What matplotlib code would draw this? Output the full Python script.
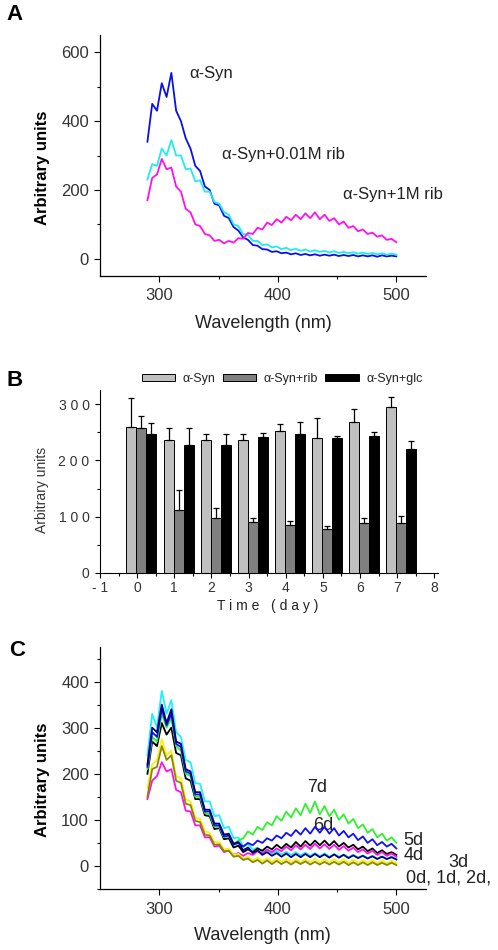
import numpy as np
import matplotlib
matplotlib.use("Agg")
import matplotlib.pyplot as plt
from matplotlib.ticker import MultipleLocator, FixedLocator, FixedFormatter

plt.rcParams['font.family'] = ['Liberation Sans', 'DejaVu Sans']

# ---------------- data ----------------
wavelength = np.linspace(290, 500, 53)

# Panel A spectra
a_syn = [340, 450, 430, 510, 470, 540, 430, 400, 350, 320, 270, 255, 210, 200, 160, 155,
         125, 118, 92, 82, 62, 55, 40, 38, 28, 27, 20, 22, 16, 18, 13, 16, 11, 14, 10, 13,
         9, 12, 9, 12, 8, 11, 8, 11, 7, 10, 7, 10, 6, 10, 7, 9, 7]
a_syn_001rib = [230, 275, 270, 320, 300, 345, 300, 300, 260, 262, 225, 228, 195, 195, 165, 160,
                135, 128, 100, 95, 72, 70, 52, 52, 40, 42, 33, 36, 28, 32, 25, 29, 23, 27, 21, 25,
                20, 23, 18, 22, 17, 20, 16, 19, 15, 18, 14, 17, 13, 16, 12, 15, 12]
a_syn_1rib = [170, 235, 245, 290, 260, 265, 210, 195, 145, 135, 100, 95, 72, 68, 52, 55,
              45, 52, 47, 60, 58, 75, 72, 90, 85, 105, 98, 115, 105, 122, 112, 128, 115, 132, 118, 135,
              115, 128, 110, 118, 100, 108, 90, 95, 80, 85, 72, 76, 64, 68, 55, 58, 48]
a_labels = ["\u03b1-Syn", "\u03b1-Syn+0.01M rib", "\u03b1-Syn+1M rib"]

# Panel B bars
days = [0, 1, 2, 3, 4, 5, 6, 7]
b_syn = [260, 237, 237, 237, 253, 239, 268, 294]
b_syn_err = [50, 21, 10, 10, 12, 37, 24, 19]
b_rib = [258, 112, 98, 91, 85, 79, 89, 89]
b_rib_err = [21, 35, 17, 6, 7, 4, 9, 13]
b_glc = [247, 228, 228, 242, 246, 240, 243, 221]
b_glc_err = [19, 30, 19, 7, 22, 3, 8, 13]
b_labels = ["\u03b1-Syn", "\u03b1-Syn+rib", "\u03b1-Syn+glc"]
b_yticklabels = ["0", "1 0 0", "2 0 0", "3 0 0"]
b_xticklabels = ["- 1", "0", "1", "2", "3", "4", "5", "6", "7", "8"]

# Panel C spectra (days)
c_cyan = [240, 330, 300, 380, 330, 360, 290, 280, 230, 225, 180, 178, 140, 140, 108, 110,
          82, 85, 60, 62, 42, 48, 35, 40, 30, 36, 27, 33, 25, 31, 24, 30, 23, 29, 22, 28,
          21, 27, 20, 26, 20, 25, 19, 24, 18, 23, 17, 22, 16, 21, 15, 20, 15]
c_green = [210, 280, 270, 330, 300, 320, 260, 250, 200, 195, 150, 150, 115, 112, 85, 85,
           62, 65, 48, 55, 60, 75, 68, 85, 78, 95, 88, 108, 98, 118, 105, 125, 110, 135, 115, 140,
           112, 130, 108, 122, 100, 112, 92, 102, 82, 90, 72, 80, 62, 70, 55, 62, 50]
c_blue = [215, 290, 280, 340, 305, 330, 265, 258, 205, 200, 155, 155, 118, 118, 88, 88,
          64, 66, 46, 50, 42, 50, 45, 55, 50, 60, 55, 66, 60, 72, 65, 78, 68, 82, 70, 85,
          72, 85, 70, 82, 66, 76, 62, 70, 56, 64, 50, 58, 45, 52, 42, 48, 38]
c_black = [200, 270, 260, 310, 285, 300, 245, 240, 190, 185, 145, 145, 110, 108, 80, 82,
           58, 60, 40, 44, 30, 36, 30, 38, 33, 42, 36, 46, 38, 48, 40, 52, 42, 54, 44, 55,
           45, 55, 44, 54, 42, 50, 40, 46, 36, 42, 32, 38, 28, 34, 26, 30, 24]
c_magenta = [145, 185, 195, 225, 205, 210, 165, 160, 120, 118, 88, 88, 62, 62, 42, 44,
             30, 34, 24, 28, 22, 28, 24, 32, 27, 35, 30, 38, 32, 42, 34, 45, 36, 46, 37, 48,
             38, 47, 37, 46, 35, 43, 33, 40, 30, 36, 27, 33, 24, 30, 22, 27, 20]
c_navy = [220, 300, 290, 350, 310, 340, 270, 265, 210, 205, 160, 160, 122, 122, 92, 92,
          68, 70, 48, 52, 34, 40, 28, 34, 24, 30, 22, 28, 20, 27, 19, 26, 19, 26, 19, 26,
          19, 25, 18, 25, 18, 24, 17, 23, 17, 22, 16, 21, 15, 20, 15, 19, 14]
c_yellow = [170, 220, 230, 275, 240, 250, 195, 190, 145, 140, 105, 102, 75, 72, 52, 52,
            36, 38, 24, 26, 16, 20, 12, 18, 10, 17, 9, 16, 9, 16, 8, 15, 8, 15, 8, 16,
            8, 15, 8, 15, 8, 14, 7, 14, 7, 13, 7, 13, 6, 12, 6, 11, 6]
c_olive = [150, 210, 215, 260, 230, 240, 185, 180, 135, 132, 98, 95, 68, 66, 46, 47,
           32, 33, 20, 22, 13, 16, 8, 13, 5, 12, 4, 11, 4, 10, 3, 10, 4, 10, 3, 9,
           3, 9, 3, 9, 3, 9, 2, 8, 2, 8, 2, 8, 2, 7, 2, 7, 2]
c_day_labels = ["7d", "6d", "5d", "4d", "3d", "0d, 1d, 2d,"]

# ---------------- figure ----------------
W, H = 498, 950
fig = plt.figure(figsize=(W / 100, H / 100), dpi=100)


def ax_rect(l, r, t, b):
    return [l / W, 1 - b / H, (r - l) / W, (b - t) / H]


TXT = '#333333'
LW = 1.3


def style_spec_axes(ax):
    for s in ['top', 'right']:
        ax.spines[s].set_visible(False)
    for s in ['left', 'bottom']:
        ax.spines[s].set_linewidth(0.9)
    ax.tick_params(which='major', direction='out', length=4, width=0.8,
                   labelsize=12, labelcolor=TXT)
    ax.tick_params(which='minor', direction='out', length=2.5, width=0.8)
    ax.tick_params(axis='y', pad=4)
    ax.tick_params(axis='x', pad=5)
    ax.set_xlim(250, 525)
    ax.xaxis.set_major_locator(FixedLocator([300, 400, 500]))
    ax.xaxis.set_minor_locator(FixedLocator([350, 450]))


# ---- Panel A ----
axA = fig.add_axes(ax_rect(100, 426, 35, 276))
style_spec_axes(axA)
axA.plot(wavelength, a_syn, color='#0a10e8', lw=LW)
axA.plot(wavelength, a_syn_001rib, color='#20ecf0', lw=LW)
axA.plot(wavelength, a_syn_1rib, color='#ff10f0', lw=LW)
axA.set_ylim(-50, 650)
axA.yaxis.set_major_locator(MultipleLocator(200))
axA.yaxis.set_minor_locator(MultipleLocator(100))
axA.text(325, 537, a_labels[0], fontsize=12, color='#222222', va='center', ha='left')
axA.text(353, 302, a_labels[1], fontsize=12, color='#222222', va='center', ha='left')
axA.text(455, 186, a_labels[2], fontsize=12, color='#222222', va='center', ha='left', clip_on=False)
fig.text(42 / W, 1 - 168 / H, "Arbitrary units", rotation=90, fontsize=12,
         fontweight='bold', ha='center', va='center')
fig.text(263 / W, 1 - 323 / H, "Wavelength (nm)", fontsize=13, color='#222222',
         ha='center', va='center')
fig.text(14 / W, 1 - 15 / H, "A", fontsize=16, fontweight='bold', ha='center', va='center')

# ---- Panel B ----
axB = fig.add_axes(ax_rect(100, 438, 390, 573))
for s in ['top', 'right']:
    axB.spines[s].set_visible(False)
d = np.array(days)
wbar = 0.27
bars1 = axB.bar(d - 0.155, b_syn, width=wbar, color='#c0c0c0', edgecolor='black', linewidth=0.7,
                label=b_labels[0])
bars2 = axB.bar(d + 0.115, b_rib, width=wbar, color='#808080', edgecolor='black', linewidth=0.7,
                label=b_labels[1])
bars3 = axB.bar(d + 0.385, b_glc, width=wbar, color='#000000', edgecolor='black', linewidth=0.7,
                label=b_labels[2])
for off, vals, errs in [(-0.155, b_syn, b_syn_err), (0.115, b_rib, b_rib_err),
                        (0.385, b_glc, b_glc_err)]:
    axB.errorbar(d + off, vals, yerr=[np.zeros(len(errs)), errs], fmt='none',
                 ecolor='black', elinewidth=0.9, capsize=2.5, capthick=0.9)
axB.set_xlim(-1, 8.1)
axB.set_ylim(0, 325)
axB.xaxis.set_major_locator(FixedLocator(list(range(-1, 9))))
axB.xaxis.set_major_formatter(FixedFormatter(b_xticklabels))
axB.xaxis.set_minor_locator(MultipleLocator(0.5))
axB.yaxis.set_major_locator(FixedLocator([0, 100, 200, 300]))
axB.yaxis.set_major_formatter(FixedFormatter(b_yticklabels))
axB.yaxis.set_minor_locator(FixedLocator([50, 150, 250]))
axB.tick_params(which='major', direction='out', length=3.5, width=0.8, labelsize=10,
                labelcolor=TXT)
axB.tick_params(which='minor', direction='out', length=2, width=0.8)
axB.tick_params(axis='y', pad=4)
axB.tick_params(axis='x', pad=2)
leg = axB.legend(handles=[bars1, bars2, bars3], ncol=3, frameon=False, fontsize=9,
                 loc='center left', bbox_to_anchor=(141.7 / W, 1 - 379 / H),
                 bbox_transform=fig.transFigure, borderpad=0, borderaxespad=0,
                 handlelength=2.7, handleheight=0.5, handletextpad=0.6, columnspacing=0.55)
for t in leg.get_texts():
    t.set_color('#222222')
fig.text(42 / W, 1 - 490 / H, "Arbitrary units", rotation=90, fontsize=10, color=TXT,
         ha='center', va='center')
fig.text(268 / W, 1 - 606 / H, "T i m e   ( d a y )", fontsize=10, color='#222222',
         ha='center', va='center')
fig.text(15 / W, 1 - 381 / H, "B", fontsize=16, fontweight='bold', ha='center', va='center')

# ---- Panel C ----
axC = fig.add_axes(ax_rect(100, 426, 647, 889))
style_spec_axes(axC)
for vals, col in [(c_cyan, '#20f0f8'), (c_black, '#000000'), (c_green, '#30f030'),
                  (c_blue, '#1010f8'), (c_magenta, '#ff10f0'), (c_navy, '#000080'),
                  (c_yellow, '#f8f010'), (c_olive, '#888800')]:
    axC.plot(wavelength, vals, color=col, lw=LW, zorder=2)
axC.set_ylim(-50, 475)
axC.yaxis.set_major_locator(MultipleLocator(100))
axC.yaxis.set_minor_locator(MultipleLocator(50))
for lab, (x, y) in zip(c_day_labels, [(424.6, 170), (429.7, 88), (506, 56), (506, 23),
                                      (544, 6.5), (508.5, -26.6)]):
    axC.text(x, y, lab, fontsize=13, color='#222222', ha='left', va='center', clip_on=False,
             zorder=1)
fig.text(42 / W, 1 - 780 / H, "Arbitrary units", rotation=90, fontsize=12,
         fontweight='bold', ha='center', va='center')
fig.text(262 / W, 1 - 935 / H, "Wavelength (nm)", fontsize=13, color='#222222',
         ha='center', va='center')
fig.text(17 / W, 1 - 650 / H, "C", fontsize=16, fontweight='bold', ha='center', va='center')

fig.savefig("out.png", dpi=100)
